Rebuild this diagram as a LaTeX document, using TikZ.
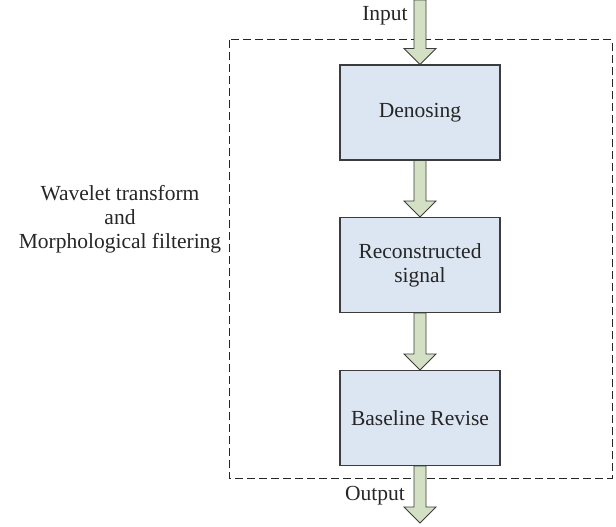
\documentclass[tikz,border=0pt]{standalone}
\usepackage{fontspec}
\setmainfont{Liberation Serif}
\usetikzlibrary{calc}
\definecolor{boxfill}{HTML}{DCE6F2}
\definecolor{arrowfill}{HTML}{D4E0C4}
\definecolor{edge}{HTML}{3C3C3C}
\tikzset{
  stage/.style={draw=edge, line width=1.1pt, fill=boxfill, minimum width=160pt,
    minimum height=95pt, inner sep=0pt, align=center, text=black!85,
    font=\fontsize{21.5}{24}\selectfont},
  label/.style={align=center, text=black!85, font=\fontsize{21.5}{24}\selectfont},
  fat/.style={draw=edge, line width=0.8pt, fill=arrowfill},
  frame/.style={draw=black!85, line width=1pt, dash pattern=on 8pt off 4pt}
}
% block arrow from #1 (tail) to #2 (tip)
\newcommand{\fatarrow}[2]{%
  \draw[fat] ($(#1)+(-6,0)$) -- ($(#2)+(-6,-16)$) -- ($(#2)+(-16,-16)$) -- (#2)
    -- ($(#2)+(16,-16)$) -- ($(#2)+(6,-16)$) -- ($(#1)+(6,0)$) -- cycle;}
\begin{document}
\begin{tikzpicture}[x=1pt, y=-1pt]
  \useasboundingbox (0,0) rectangle (616,527);
  % dashed frame around the processing chain
  \draw[frame] (229,40) rectangle (612,478);
  % stages
  \node[stage] (den) at (420,112.5) {Denosing};
  \node[stage] (rec) at (420,265) {Reconstructed\\signal};
  \node[stage] (base) at (420,418) {Baseline Revise};
  % free ends
  \coordinate (in) at (420,0);
  \coordinate (out) at (420,523);
  % arrows
  \fatarrow{in}{den.north}
  \fatarrow{den.south}{rec.north}
  \fatarrow{rec.south}{base.north}
  \fatarrow{base.south}{out}
  % labels
  \node[label] (inlbl) at (385,16) {Input};
  \node[label] (outlbl) at (375,496) {Output};
  \node[label] (side) at (120,219) {Wavelet transform\\and\\Morphological filtering};
\end{tikzpicture}
\end{document}
